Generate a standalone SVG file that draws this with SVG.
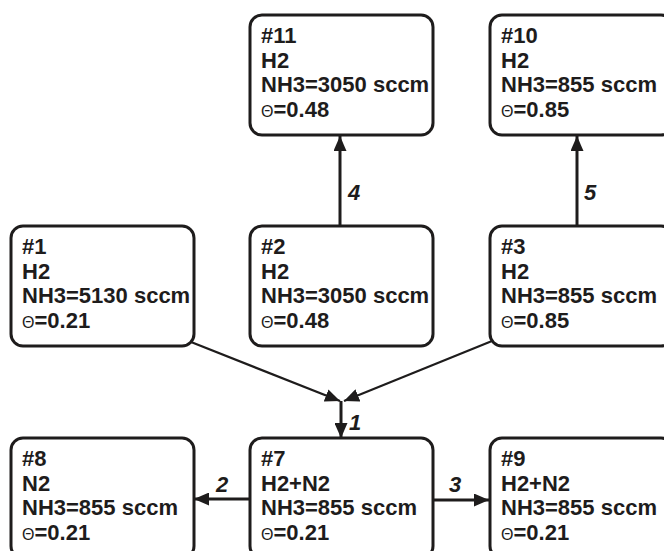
<svg xmlns="http://www.w3.org/2000/svg" width="664" height="551" viewBox="0 0 664 551">
<defs>
<style>
.box{fill:#fff;stroke:#1e1c1c;stroke-width:3}
.t{font-family:"Liberation Sans",Arial,sans-serif;font-weight:bold;font-size:22px;fill:#1e1c1c}
.th{font-weight:normal;font-size:16px}
.lbl{font-family:"Liberation Sans",Arial,sans-serif;font-weight:bold;font-style:italic;font-size:22px;fill:#1e1c1c}
.ln{stroke:#1e1c1c;stroke-width:3;fill:none}
.dl{stroke:#1e1c1c;stroke-width:2.2;fill:none}
</style>
<marker id="ah" markerWidth="15" markerHeight="13" refX="15" refY="6.5" orient="auto" markerUnits="userSpaceOnUse">
<path d="M0,0 L15,6.5 L0,13 z" fill="#1e1c1c"/>
</marker>
</defs>
<rect width="664" height="551" fill="#fff"/>
<g id="connectors">
<line class="ln" x1="340" y1="226" x2="340" y2="136" marker-end="url(#ah)"/>
<line class="ln" x1="577" y1="227" x2="577" y2="136" marker-end="url(#ah)"/>
<line class="dl" x1="191" y1="342" x2="340" y2="401" marker-end="url(#ah)"/>
<line class="dl" x1="492" y1="341" x2="344" y2="401" marker-end="url(#ah)"/>
<line class="ln" x1="341" y1="401" x2="341" y2="438" marker-end="url(#ah)"/>
<line class="ln" x1="250" y1="499" x2="194" y2="499" marker-end="url(#ah)"/>
<line class="ln" x1="433" y1="500" x2="489" y2="500" marker-end="url(#ah)"/>
<text class="lbl" x="348" y="200">4</text>
<text class="lbl" x="584" y="200">5</text>
<text class="lbl" x="349" y="430">1</text>
<text class="lbl" x="216" y="492">2</text>
<text class="lbl" x="449" y="492">3</text>
</g>
<g id="n11">
<rect class="box" x="250" y="15" width="183" height="120" rx="12"/>
<text class="t" x="261" y="43">#11</text>
<text class="t" x="261" y="67.7">H2</text>
<text class="t" x="261" y="92.4">NH3=3050 sccm</text>
<text class="t" x="261" y="117.1"><tspan class="th">Θ</tspan>=0.48</text>
</g>
<g id="n10">
<rect class="box" x="490" y="15" width="183" height="120" rx="12"/>
<text class="t" x="501" y="43">#10</text>
<text class="t" x="501" y="67.7">H2</text>
<text class="t" x="501" y="92.4">NH3=855 sccm</text>
<text class="t" x="501" y="117.1"><tspan class="th">Θ</tspan>=0.85</text>
</g>
<g id="n1">
<rect class="box" x="11" y="226" width="183" height="120" rx="12"/>
<text class="t" x="22" y="254">#1</text>
<text class="t" x="22" y="278.7">H2</text>
<text class="t" x="22" y="303.4">NH3=5130 sccm</text>
<text class="t" x="22" y="328.1"><tspan class="th">Θ</tspan>=0.21</text>
</g>
<g id="n2">
<rect class="box" x="250" y="226" width="183" height="120" rx="12"/>
<text class="t" x="261" y="254">#2</text>
<text class="t" x="261" y="278.7">H2</text>
<text class="t" x="261" y="303.4">NH3=3050 sccm</text>
<text class="t" x="261" y="328.1"><tspan class="th">Θ</tspan>=0.48</text>
</g>
<g id="n3">
<rect class="box" x="490" y="226" width="183" height="120" rx="12"/>
<text class="t" x="501" y="254">#3</text>
<text class="t" x="501" y="278.7">H2</text>
<text class="t" x="501" y="303.4">NH3=855 sccm</text>
<text class="t" x="501" y="328.1"><tspan class="th">Θ</tspan>=0.85</text>
</g>
<g id="n8">
<rect class="box" x="11" y="438" width="183" height="120" rx="12"/>
<text class="t" x="22" y="466">#8</text>
<text class="t" x="22" y="490.7">N2</text>
<text class="t" x="22" y="515.4">NH3=855 sccm</text>
<text class="t" x="22" y="540.1"><tspan class="th">Θ</tspan>=0.21</text>
</g>
<g id="n7">
<rect class="box" x="250" y="438" width="183" height="120" rx="12"/>
<text class="t" x="261" y="466">#7</text>
<text class="t" x="261" y="490.7">H2+N2</text>
<text class="t" x="261" y="515.4">NH3=855 sccm</text>
<text class="t" x="261" y="540.1"><tspan class="th">Θ</tspan>=0.21</text>
</g>
<g id="n9">
<rect class="box" x="490" y="438" width="183" height="120" rx="12"/>
<text class="t" x="501" y="466">#9</text>
<text class="t" x="501" y="490.7">H2+N2</text>
<text class="t" x="501" y="515.4">NH3=855 sccm</text>
<text class="t" x="501" y="540.1"><tspan class="th">Θ</tspan>=0.21</text>
</g>
</svg>
